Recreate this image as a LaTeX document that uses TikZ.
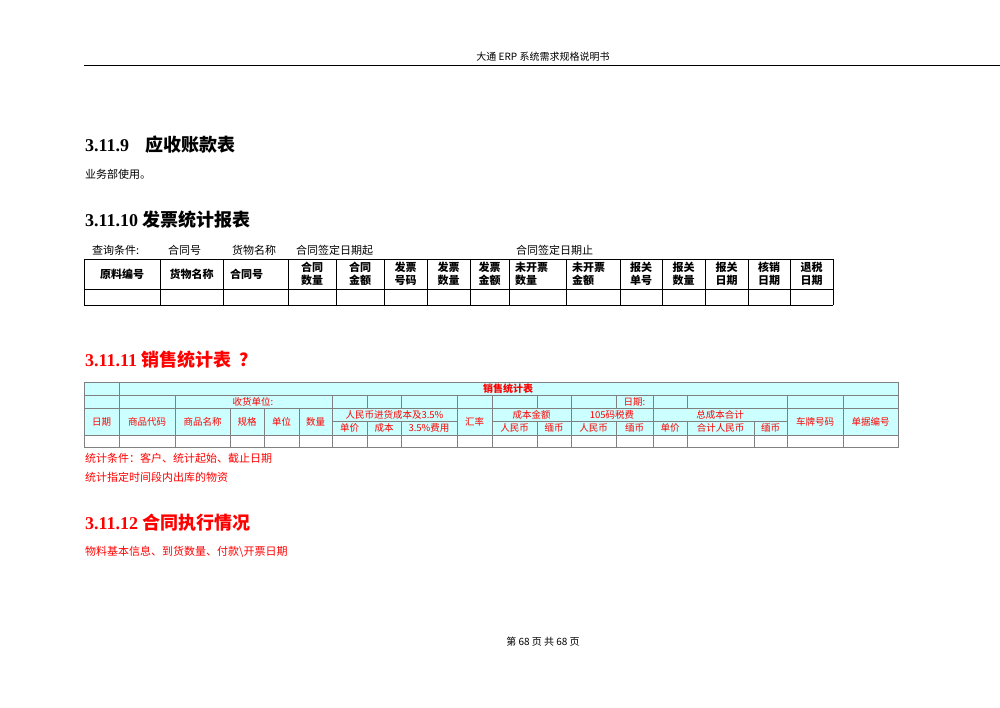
\documentclass[tikz,border=0pt]{standalone}
\usepackage{fontspec}
\setmainfont{Liberation Serif}
\newfontfamily\cjk{Noto Sans CJK SC}
\begin{document}
\begin{tikzpicture}[x=1pt,y=-1pt,
  txt/.style={anchor=west,inner sep=0pt,font=\cjk\fontsize{11}{12}\selectfont},
  head/.style={anchor=west,inner sep=0pt,font=\bfseries\fontsize{18}{20}\selectfont},
  hcell/.style={inner sep=0pt,align=center,font=\cjk\bfseries\fontsize{11}{13}\selectfont},
  rcell/.style={inner sep=0pt,text=red,font=\cjk\fontsize{9.5}{10}\selectfont},
  gl/.style={draw=black,line width=0.6pt}]
\definecolor{cy}{HTML}{CCFFFF}
\definecolor{gr}{HTML}{808080}
\useasboundingbox[fill=white] (0,0) rectangle (1000,707);
% header
\node[inner sep=0pt,font=\cjk\fontsize{10}{11}\selectfont] (hd) at (543,57) {大通 ERP 系统需求规格说明书};
\draw[line width=0.6pt] (84,65) -- (1000,65);
% 3.11.9
\node[head] (h9) at (85,145) {3.11.9\hspace{16pt}{\cjk 应收账款表}};
\node[txt] (t9) at (85,174) {业务部使用。};
\node[head] (h10) at (85,220) {3.11.10 {\cjk 发票统计报表}};
\node[txt] (q1) at (92,250) {查询条件:};
\node[txt] (q2) at (168,250) {合同号};
\node[txt] (q3) at (232,250) {货物名称};
\node[txt] (q4) at (296,250) {合同签定日期起};
\node[txt] (q5) at (516,250) {合同签定日期止};
% table 1
\foreach \x in {84,160,223,288,336,384,427,470,509,566,620,662,705,748,790,833}
  \draw[gl] (\x,259) -- (\x,305);
\foreach \y in {259,289,305} \draw[gl] (84,\y) -- (833,\y);
\node[hcell] (c1) at (122,274) {原料编号};
\node[hcell] (c2) at (191.5,274) {货物名称};
\node[hcell,anchor=west] (c3) at (230,274) {合同号};
\foreach \a/\b/\t in {288/336/{合同\\数量},336/384/{合同\\金额},384/427/{发票\\号码},427/470/{发票\\数量},470/509/{发票\\金额},620/662/{报关\\单号},662/705/{报关\\数量},705/748/{报关\\日期},748/790/{核销\\日期},790/833/{退税\\日期}}
  \node[hcell] at ({(\a+\b)/2},274) {\t};
\node[hcell,align=left,anchor=west] (c9) at (515,274) {未开票\\数量};
\node[hcell,align=left,anchor=west] (c10) at (572,274) {未开票\\金额};
% 3.11.11
\node[head,text=red] (h11) at (85,360) {3.11.11 {\cjk 销售统计表}\hspace{8pt}{\cjk ？}};
% table 2
\fill[cy] (84,382) rectangle (898,435);
\draw[gr,line width=0.6pt] (84,382) rectangle (898,447);
\foreach \y in {395,408,435} \draw[gr,line width=0.6pt] (84,\y) -- (898,\y);
\draw[gr,line width=0.6pt] (119,382) -- (119,447);
\foreach \x in {175,332,367,401,457,492,537,571,616,653,687,787,843}
  \draw[gr,line width=0.6pt] (\x,395) -- (\x,408);
\foreach \x in {175,230,264,299,332,457,492,571,653,787,843}
  \draw[gr,line width=0.6pt] (\x,408) -- (\x,447);
\foreach \x in {367,401,537,616,687,754}
  \draw[gr,line width=0.6pt] (\x,421) -- (\x,447);
\foreach \a/\b in {332/457,492/571,571/653,653/787}
  \draw[gr,line width=0.6pt] (\a,421) -- (\b,421);
\node[rcell,font=\cjk\bfseries\fontsize{10}{10}\selectfont] (tt) at (508,388.5) {销售统计表};
\node[rcell] (sh) at (253,401.5) {收货单位:};
\node[rcell] (rq) at (634.5,401.5) {日期:};
\foreach \a/\b/\t in {84/119/日期,119/175/商品代码,175/230/商品名称,230/264/规格,264/299/单位,299/332/数量,457/492/汇率,787/843/车牌号码,843/898/单据编号}
  \node[rcell] at ({(\a+\b)/2},421.5) {\t};
\foreach \a/\b/\t in {332/457/人民币进货成本及3.5\%,492/571/成本金额,571/653/105码税费,653/787/总成本合计}
  \node[rcell] at ({(\a+\b)/2},414.5) {\t};
\foreach \a/\b/\t in {332/367/单价,367/401/成本,401/457/3.5\%费用,492/537/人民币,537/571/缅币,571/616/人民币,616/653/缅币,653/687/单价,687/754/合计人民币,754/787/缅币}
  \node[rcell] at ({(\a+\b)/2},428) {\t};
\node[txt,text=red] (s1) at (85,458) {统计条件：客户、统计起始、截止日期};
\node[txt,text=red] (s2) at (85,477) {统计指定时间段内出库的物资};
\node[head,text=red] (h12) at (85,523) {3.11.12 {\cjk 合同执行情况}};
\node[txt,text=red] (s3) at (85,552) {物料基本信息、到货数量、付款\textbackslash 开票日期};
\node[inner sep=0pt,font=\cjk\fontsize{10}{11}\selectfont] (ft) at (543,642) {第 68 页 共 68 页};
\end{tikzpicture}
\end{document}
